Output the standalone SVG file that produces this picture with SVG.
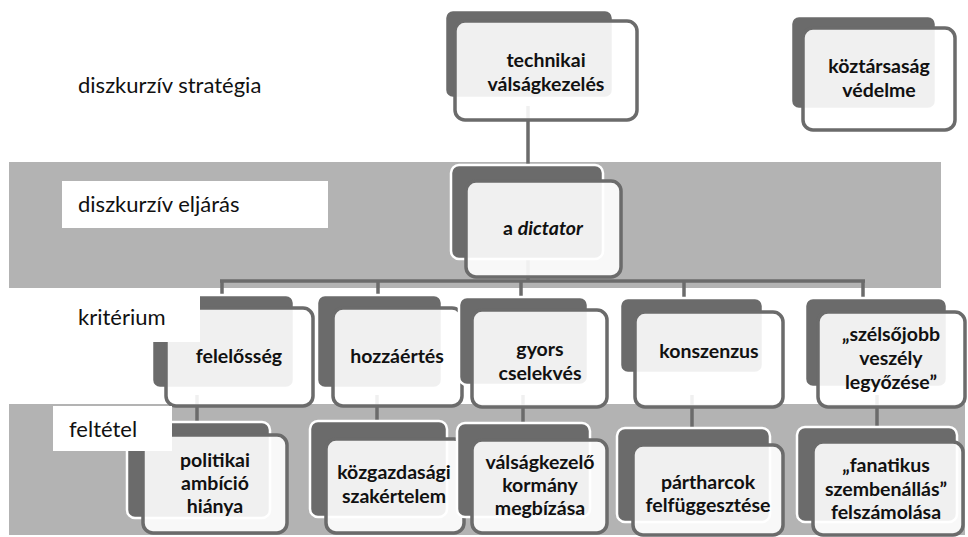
<svg xmlns="http://www.w3.org/2000/svg" width="968" height="537" viewBox="0 0 968 537">
<style>
.band{fill:#b3b3b3}
.back{fill:#6b6b6b;stroke:#fff;stroke-width:2.5}
.front{fill:#fff;fill-opacity:0.9;stroke:#6b6b6b;stroke-width:3.5}
.t{font-family:Lato,"Open Sans","Liberation Sans",sans-serif;font-weight:bold;font-size:19.5px;text-anchor:middle;fill:#111}
.lbl{font-family:Lato,"Open Sans","Liberation Sans",sans-serif;font-size:22px;fill:#111}
.lblbox{fill:#fff}
#connectors line{stroke:#6b6b6b;stroke-width:3.5}
</style>
<rect x="0" y="0" width="968" height="537" fill="#fff"/>
<rect class="band" x="9" y="162" width="932" height="126"/>
<rect class="band" x="9" y="404" width="956" height="131"/>
<text class="lbl" x="78" y="93">diszkurzív stratégia</text>
<g id="connectors">
<line x1="528" y1="106" x2="528" y2="168"/>
<line x1="528" y1="258" x2="528" y2="281"/>
<line x1="220" y1="281" x2="865" y2="281"/>
<line x1="222" y1="280" x2="222" y2="297"/>
<line x1="378" y1="280" x2="378" y2="297"/>
<line x1="521" y1="280" x2="521" y2="299"/>
<line x1="684" y1="280" x2="684" y2="300"/>
<line x1="863" y1="280" x2="863" y2="300"/>
<line x1="197" y1="395" x2="197" y2="424"/>
<line x1="377" y1="395" x2="377" y2="423"/>
<line x1="523" y1="395" x2="523" y2="425"/>
<line x1="692" y1="395" x2="692" y2="430"/>
<line x1="877" y1="395" x2="877" y2="429"/>
</g>
<g id="n-technikai">
<rect class="back" x="445" y="10" width="168" height="88" rx="8"/>
<rect class="front" x="455" y="21" width="182" height="99" rx="10"/>
<text class="t" x="546" y="67">technikai</text>
<text class="t" x="546" y="91">válságkezelés</text>
</g>
<g id="n-koztarsasag">
<rect class="back" x="791" y="16" width="145" height="93" rx="8"/>
<rect class="front" x="803" y="28" width="152" height="102" rx="10"/>
<text class="t" x="879" y="73">köztársaság</text>
<text class="t" x="879" y="97">védelme</text>
</g>
<g id="n-dictator">
<rect class="back" x="451" y="165" width="152" height="94" rx="8"/>
<rect class="front" x="466" y="181" width="155" height="96" rx="10"/>
<text class="t" x="543" y="235">a <tspan font-style="italic">dictator</tspan></text>
</g>
<g id="n-felelosseg">
<rect class="back" x="152" y="295" width="142" height="93" rx="8"/>
<rect class="front" x="166" y="308" width="147" height="98" rx="10"/>
<text class="t" x="239" y="363">felelősség</text>
</g>
<g id="n-hozzaertes">
<rect class="back" x="317" y="295" width="125" height="93" rx="8"/>
<rect class="front" x="333" y="308" width="129" height="98" rx="10"/>
<text class="t" x="397" y="363">hozzáértés</text>
</g>
<g id="n-gyors">
<rect class="back" x="459" y="297" width="129" height="88" rx="8"/>
<rect class="front" x="472" y="310" width="135" height="97" rx="10"/>
<text class="t" x="540" y="356">gyors</text>
<text class="t" x="540" y="380">cselekvés</text>
</g>
<g id="n-konszenzus">
<rect class="back" x="620" y="298" width="143" height="75" rx="8"/>
<rect class="front" x="635" y="312" width="148" height="95" rx="10"/>
<text class="t" x="709" y="358">konszenzus</text>
</g>
<g id="n-szelsojobb">
<rect class="back" x="805" y="298" width="142" height="89" rx="8"/>
<rect class="front" x="818" y="312" width="147" height="95" rx="10"/>
<text class="t" x="891" y="341">„szélsőjobb</text>
<text class="t" x="891" y="365">veszély</text>
<text class="t" x="891" y="389">legyőzése”</text>
</g>
<g id="n-politikai">
<rect class="back" x="127" y="422" width="143" height="96" rx="8"/>
<rect class="front" x="143" y="435" width="144" height="98" rx="10"/>
<text class="t" x="215" y="467">politikai</text>
<text class="t" x="215" y="490">ambíció</text>
<text class="t" x="215" y="513">hiánya</text>
</g>
<g id="n-kozgazdasagi">
<rect class="back" x="310" y="421" width="137" height="96" rx="8"/>
<rect class="front" x="326" y="439" width="138" height="94" rx="10"/>
<text class="t" x="394" y="479">közgazdasági</text>
<text class="t" x="394" y="503">szakértelem</text>
</g>
<g id="n-valsagkezelo">
<rect class="back" x="457" y="423" width="133" height="94" rx="8"/>
<rect class="front" x="472" y="440" width="135" height="93" rx="10"/>
<text class="t" x="540" y="469">válságkezelő</text>
<text class="t" x="540" y="492">kormány</text>
<text class="t" x="540" y="515">megbízása</text>
</g>
<g id="n-partharcok">
<rect class="back" x="617" y="428" width="153" height="94" rx="8"/>
<rect class="front" x="633" y="445" width="150" height="90" rx="10"/>
<text class="t" x="708" y="489">pártharcok</text>
<text class="t" x="708" y="512">felfüggesztése</text>
</g>
<g id="n-fanatikus">
<rect class="back" x="797" y="427" width="160" height="95" rx="8"/>
<rect class="front" x="813" y="442" width="150" height="93" rx="10"/>
<text class="t" x="886" y="472">„fanatikus</text>
<text class="t" x="886" y="496">szembenállás”</text>
<text class="t" x="886" y="519">felszámolása</text>
</g>
<g id="labels">
<rect class="lblbox" x="62" y="181" width="266" height="47"/>
<text class="lbl" x="78" y="212">diszkurzív eljárás</text>
<rect class="lblbox" x="62" y="295" width="138" height="47"/>
<text class="lbl" x="78" y="325">kritérium</text>
<rect class="lblbox" x="53" y="406" width="119" height="45"/>
<text class="lbl" x="69" y="437">feltétel</text>
</g>
</svg>
